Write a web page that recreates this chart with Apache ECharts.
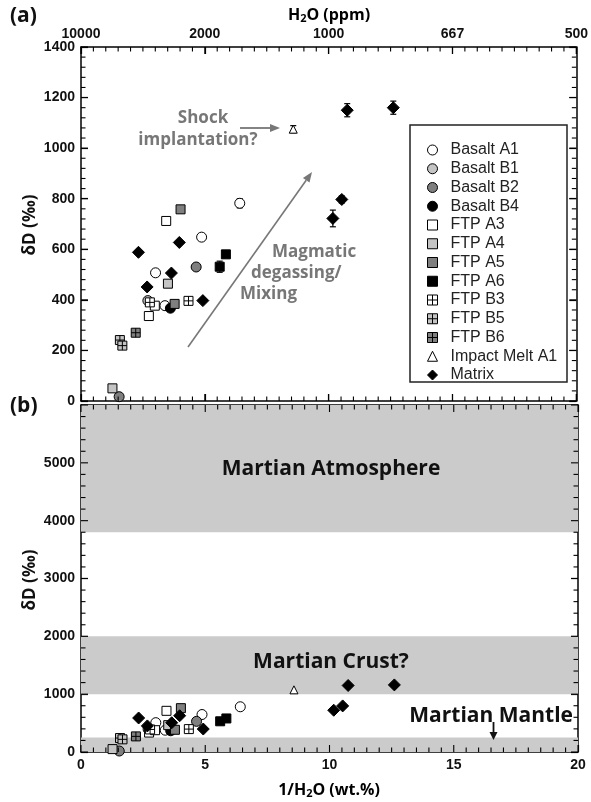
<!DOCTYPE html>
<html>
<head>
<meta charset="utf-8">
<script src="https://cdn.jsdelivr.net/npm/echarts@6/dist/echarts.min.js"></script>
<style>
html,body{margin:0;padding:0;background:#fff;}
#chart{width:591px;height:802px;}
</style>
</head>
<body>
<div id="chart"></div>
<script>
// ---- data (x = 1/H2O wt.%, y = δD ‰) ----
const seriesNames = ['Basalt A1','Basalt B1','Basalt B2','Basalt B4','FTP A3','FTP A4','FTP A5','FTP A6','FTP B3','FTP B5','FTP B6','Impact Melt A1','Matrix'];
const basaltA1 = [[3.01,507],[3.39,377],[4.87,648],[6.41,782]];
const basaltB1 = [[2.70,397]];
const basaltB2 = [[1.54,17],[4.65,530]];
const basaltB4 = [[3.61,367]];
const ftpA3 = [[2.74,336],[2.98,377],[3.44,712]];
const ftpA4 = [[1.27,50],[3.51,464]];
const ftpA5 = [[3.78,384],[4.02,758]];
const ftpA6 = [[5.60,531],[5.85,580]];
const ftpB3 = [[2.78,390],[4.34,396]];
const ftpB5 = [[1.57,241],[1.67,219]];
const ftpB6 = [[2.21,270]];
const impactMeltA1 = [[8.57,1075]];
const matrix = [[2.32,588],[2.67,451],[3.65,506],[3.97,627],[4.92,397],[10.17,722],[10.53,797],[10.75,1150],[12.61,1160]];
// error bars: [x, y, ±err]
const errorBars = [[5.60,531,22],[6.41,782,18],[8.57,1075,14],[10.17,722,33],[10.53,797,14],[10.75,1150,26],[12.61,1160,26]];
// tick labels
const topTickValues = [0,5,10,15,20];
const topTickLabels = ['10000','2000','1000','667','500'];
// reservoir bands (bottom panel, δD ranges)
const bandNames = ['Martian Atmosphere','Martian Crust?','Martian Mantle'];
const bandRanges = [[3800,6000],[1000,2000],[0,250]];
const mantleArrowX = 16.6;

const crossSq = 'path://M0,0H10V10H0Z M5,0V10 M0,5H10';
const styles = [
  {symbol:'circle', size:10, color:'#ffffff'},
  {symbol:'circle', size:10, color:'#c4c4c4'},
  {symbol:'circle', size:10, color:'#7f7f7f'},
  {symbol:'circle', size:10, color:'#000000'},
  {symbol:'rect', size:9, color:'#ffffff'},
  {symbol:'rect', size:9, color:'#c4c4c4'},
  {symbol:'rect', size:9, color:'#7f7f7f'},
  {symbol:'rect', size:9, color:'#000000'},
  {symbol:crossSq, size:9, color:'#ffffff'},
  {symbol:crossSq, size:9, color:'#c4c4c4'},
  {symbol:crossSq, size:9, color:'#7f7f7f'},
  {symbol:'triangle', size:8, color:'#ffffff'},
  {symbol:'diamond', size:12, color:'#000000'}
];
const dataSets = [basaltA1,basaltB1,basaltB2,basaltB4,ftpA3,ftpA4,ftpA5,ftpA6,ftpB3,ftpB5,ftpB6,impactMeltA1,matrix];

// axis ranges
const xRange = [0,20], xMajor = 5, xMinor = 0.5;
const yRangeA = [0,1400], yMajorA = 200, yMinorA = 40;
const yRangeB = [0,6000], yMajorB = 1000, yMinorB = 200;

const chart = echarts.init(document.getElementById('chart'), null, {renderer:'canvas'});

const G1 = {left:81, top:47, width:497, height:354};
const G2 = {left:81, top:405, width:497, height:347};

function axLine(){ return {show:true, onZero:false, lineStyle:{color:'#000', width:1.5}}; }
const lblFont = {fontFamily:'Liberation Sans', fontWeight:'bold', fontSize:14, color:'#111'};

function xAx(gridIndex, position, showLabels, formatter){
  return {
    type:'value', gridIndex, position, min:xRange[0], max:xRange[1], interval:xMajor,
    axisLine:axLine(),
    axisTick:{show:true, inside:true, length:7, lineStyle:{color:'#000', width:1.2}},
    splitLine:{show:false},
    axisLabel:Object.assign({show:showLabels, margin:6, formatter:formatter || function(v){return String(v);}}, lblFont)
  };
}
function yAx(gridIndex, position, range, interval, showLabels, formatter){
  return {
    type:'value', gridIndex, position, min:range[0], max:range[1], interval,
    axisLine:axLine(),
    axisTick:{show:true, inside:true, length:7, lineStyle:{color:'#000', width:1.2}},
    splitLine:{show:false},
    axisLabel:Object.assign({show:showLabels, margin:6, formatter:formatter || function(v){return String(v);}}, lblFont)
  };
}

// tick marks drawn through the axis scales (inside ticks on all four sides)
function tickSeries(xi, yi, yRange, yMajor, yMinor){
  return {
    type:'custom', xAxisIndex:xi, yAxisIndex:yi, data:[[0,0]], silent:true, clip:false, z:5,
    renderItem:function(params, api){
      const kids = [];
      const st = {stroke:'#000', lineWidth:1.1};
      const nx = Math.round((xRange[1]-xRange[0])/xMinor);
      for (let i=0;i<=nx;i++){
        const v = xRange[0]+i*xMinor;
        const major = Math.abs(v/xMajor - Math.round(v/xMajor))<1e-6;
        const L = major?7:4.5;
        const pb = api.coord([v, yRange[0]]), pt = api.coord([v, yRange[1]]);
        kids.push({type:'line', shape:{x1:pb[0],y1:pb[1],x2:pb[0],y2:pb[1]-L}, style:st});
        kids.push({type:'line', shape:{x1:pt[0],y1:pt[1],x2:pt[0],y2:pt[1]+L}, style:st});
      }
      const ny = Math.round((yRange[1]-yRange[0])/yMinor);
      for (let j=0;j<=ny;j++){
        const v = yRange[0]+j*yMinor;
        const major = Math.abs(v/yMajor - Math.round(v/yMajor))<1e-6;
        const L = major?7:4.5;
        const pl = api.coord([xRange[0], v]), pr = api.coord([xRange[1], v]);
        kids.push({type:'line', shape:{x1:pl[0],y1:pl[1],x2:pl[0]+L,y2:pl[1]}, style:st});
        kids.push({type:'line', shape:{x1:pr[0],y1:pr[1],x2:pr[0]-L,y2:pr[1]}, style:st});
      }
      return {type:'group', children:kids};
    }
  };
}

const series = [];
series.push({
  type:'scatter', xAxisIndex:2, yAxisIndex:2, data:[], silent:true,
  markArea:{silent:true, itemStyle:{color:'#cbcbcb'}, label:{show:false},
    data: bandRanges.map((r,i)=>[{yAxis:r[0], name:bandNames[i]},{yAxis:r[1]}])}
});
series.push(tickSeries(0,0,yRangeA,yMajorA,yMinorA));
series.push(tickSeries(2,2,yRangeB,yMajorB,yMinorB));
series.push({
  type:'custom', xAxisIndex:0, yAxisIndex:0, data:errorBars, z:1, silent:true,
  renderItem:function(params, api){
    const x = api.value(0), y = api.value(1), e = api.value(2);
    const p1 = api.coord([x, y+e]), p2 = api.coord([x, y-e]);
    const c = 3;
    return {type:'group', children:[
      {type:'line', shape:{x1:p1[0],y1:p1[1],x2:p2[0],y2:p2[1]}, style:{stroke:'#000', lineWidth:1.2}},
      {type:'line', shape:{x1:p1[0]-c,y1:p1[1],x2:p1[0]+c,y2:p1[1]}, style:{stroke:'#000', lineWidth:1.2}},
      {type:'line', shape:{x1:p2[0]-c,y1:p2[1],x2:p2[0]+c,y2:p2[1]}, style:{stroke:'#000', lineWidth:1.2}}
    ]};
  }
});
seriesNames.forEach((name,i)=>{
  const st = styles[i];
  [[0,0],[2,2]].forEach(([xi,yi])=>{
    series.push({
      type:'scatter', name, xAxisIndex:xi, yAxisIndex:yi, data:dataSets[i],
      symbol:st.symbol, symbolSize:st.size, z:3,
      itemStyle:{color:st.color, borderColor:'#000', borderWidth:1, opacity:1},
      emphasis:{disabled:true}
    });
  });
});

const grey = '#777';
const annFont = 'Open Sans';

const option = {
  animation:false,
  backgroundColor:'#fff',
  grid:[G1, G2],
  xAxis:[
    xAx(0,'bottom',false),
    xAx(0,'top',true,function(v){const k=topTickValues.indexOf(v);return k>=0?topTickLabels[k]:'';}),
    xAx(1,'bottom',true),
    xAx(1,'top',false)
  ],
  yAxis:[
    yAx(0,'left',yRangeA,yMajorA,true),
    yAx(0,'right',yRangeA,yMajorA,false),
    yAx(1,'left',yRangeB,yMajorB,true,function(v){return v===6000?'':String(v);}),
    yAx(1,'right',yRangeB,yMajorB,false)
  ],
  legend:{
    data:seriesNames, orient:'vertical', left:422, top:137,
    itemWidth:10, itemHeight:10, itemGap:2.75,
    textStyle:{fontFamily:'Liberation Sans', fontSize:16, color:'#222', lineHeight:16, padding:[0,0,0,8]},
    itemStyle:{borderColor:'#000', borderWidth:1},
    selectedMode:false
  },
  series,
  graphic:[
    {type:'rect', shape:{x:410,y:125,width:157,height:257}, style:{fill:'#fff', stroke:'#222', lineWidth:1.5}, z:-1},
    {type:'text', left:10, top:6, style:{text:'(a)', font:'bold 21px "Open Sans"', fill:'#111'}},
    {type:'text', left:10, top:396, style:{text:'(b)', font:'bold 21px "Open Sans"', fill:'#111'}},
    {type:'text', x:329, y:15, style:{
      text:'{a|H}{s|2}{a|O (ppm)}', align:'center', verticalAlign:'middle',
      rich:{a:{fontFamily:annFont, fontWeight:'bold', fontSize:16, color:'#111'},
            s:{fontFamily:annFont, fontWeight:'bold', fontSize:11, color:'#111', padding:[8,0,0,0]}}}},
    {type:'text', x:329, y:790, style:{
      text:'{a|1/H}{s|2}{a|O (wt.%)}', align:'center', verticalAlign:'middle',
      rich:{a:{fontFamily:annFont, fontWeight:'bold', fontSize:16, color:'#111'},
            s:{fontFamily:annFont, fontWeight:'bold', fontSize:11, color:'#111', padding:[8,0,0,0]}}}},
    {type:'text', x:30, y:225, rotation:Math.PI/2, style:{text:'δD (‰)', font:'bold 17px "Open Sans"', fill:'#111', align:'center', verticalAlign:'middle'}},
    {type:'text', x:30, y:580, rotation:Math.PI/2, style:{text:'δD (‰)', font:'bold 17px "Open Sans"', fill:'#111', align:'center', verticalAlign:'middle'}},
    {type:'text', x:203, y:118, style:{text:'Shock', font:'bold 17px "Open Sans"', fill:grey, align:'center', verticalAlign:'middle'}},
    {type:'text', x:198, y:140, style:{text:'implantation?', font:'bold 17px "Open Sans"', fill:grey, align:'center', verticalAlign:'middle'}},
    {type:'line', shape:{x1:240,y1:128,x2:271,y2:128}, style:{stroke:grey, lineWidth:1.8}},
    {type:'polygon', shape:{points:[[280,128],[270,124],[270,132]]}, style:{fill:grey}},
    {type:'line', shape:{x1:188,y1:347,x2:306.2,y2:180.2}, style:{stroke:grey, lineWidth:1.6}},
    {type:'polygon', shape:{points:[[312,172],[309.5,182.5],[302.9,177.9]]}, style:{fill:grey}},
    {type:'text', x:272, y:252, style:{text:'Magmatic', font:'bold 17px "Open Sans"', fill:grey, align:'left', verticalAlign:'middle'}},
    {type:'text', x:251, y:273, style:{text:'degassing/', font:'bold 17px "Open Sans"', fill:grey, align:'left', verticalAlign:'middle'}},
    {type:'text', x:240, y:294, style:{text:'Mixing', font:'bold 17px "Open Sans"', fill:grey, align:'left', verticalAlign:'middle'}},
    {type:'text', x:331, y:469, style:{text:bandNames[0], font:'bold 21px "Open Sans"', fill:'#111', align:'center', verticalAlign:'middle'}, z:10},
    {type:'text', x:331, y:662, style:{text:bandNames[1], font:'bold 21px "Open Sans"', fill:'#111', align:'center', verticalAlign:'middle'}, z:10},
    {type:'text', x:573, y:716, style:{text:bandNames[2], font:'bold 21px "Open Sans"', fill:'#111', align:'right', verticalAlign:'middle'}, z:10}
  ]
};
chart.setOption(option);

const ax = chart.convertToPixel({xAxisIndex:2, yAxisIndex:2}, [mantleArrowX, 0])[0];
const g = option.graphic.slice();
g.push({type:'line', shape:{x1:ax,y1:722,x2:ax,y2:733}, style:{stroke:'#111', lineWidth:1.8}, z:10});
g.push({type:'polygon', shape:{points:[[ax,740],[ax-4,732],[ax+4,732]]}, style:{fill:'#111'}, z:10});
chart.setOption({graphic:g}, {replaceMerge:['graphic']});
</script>
</body>
</html>
